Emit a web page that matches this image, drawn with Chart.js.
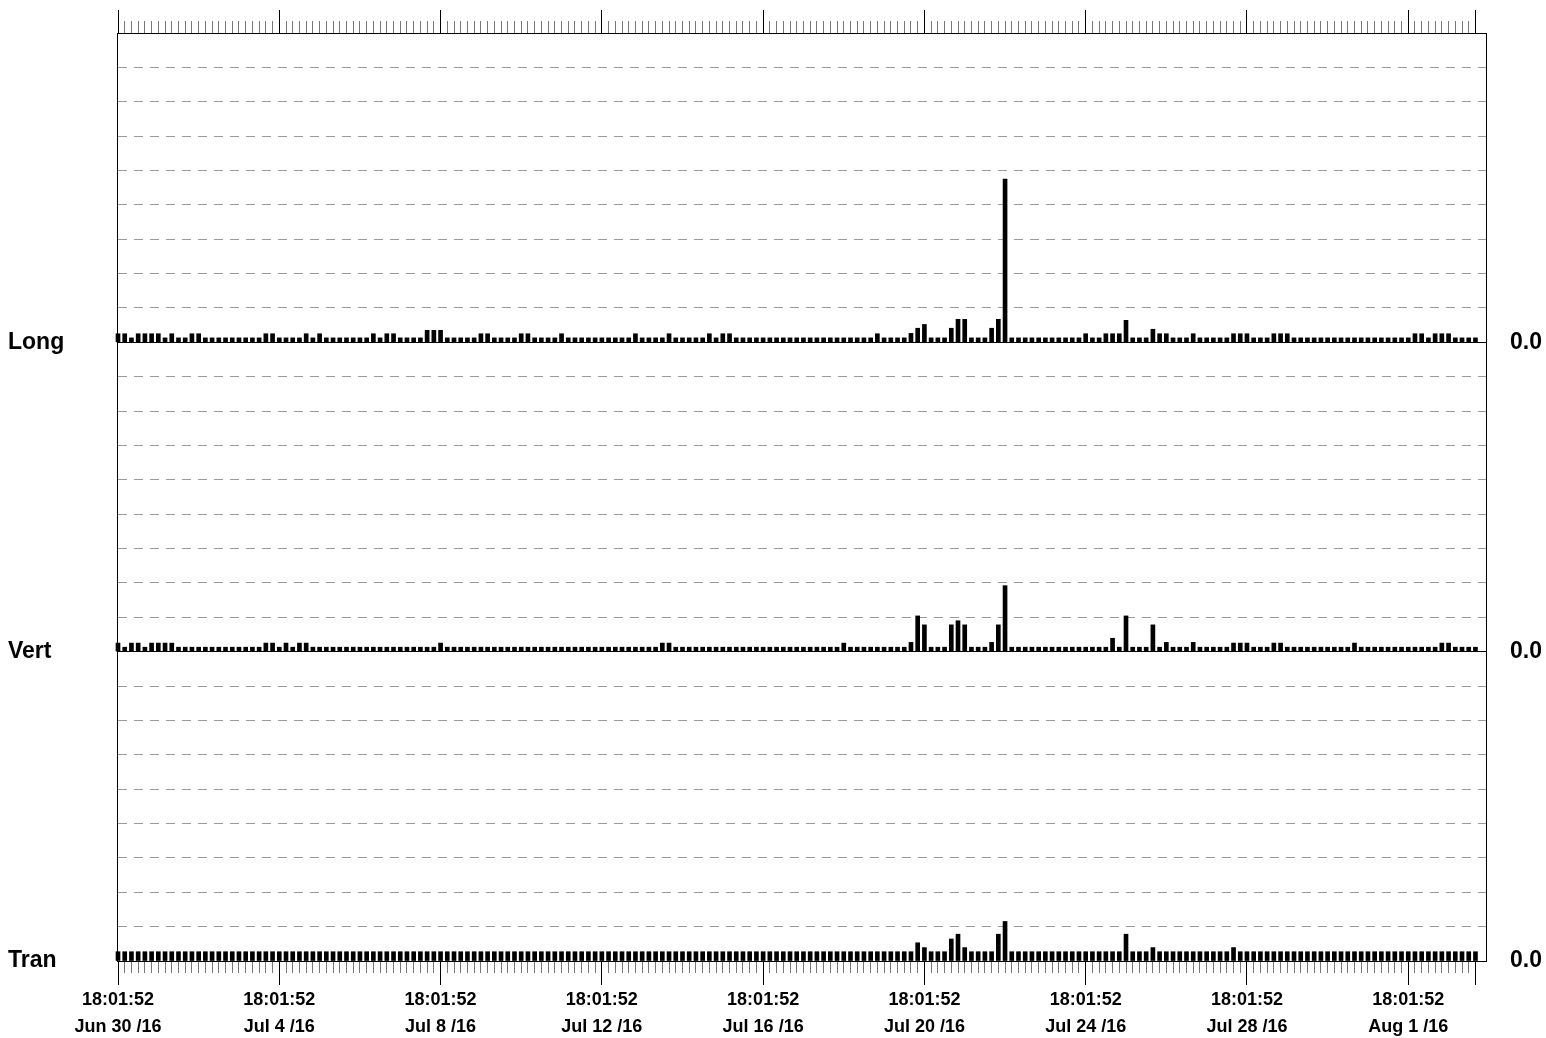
<!DOCTYPE html>
<html>
<head>
<meta charset="utf-8">
<script src="https://cdn.jsdelivr.net/npm/chart.js@4.4.1/dist/chart.umd.min.js"></script>
<style>
  html, body { margin: 0; padding: 0; background: #fff; }
  canvas { display: block; }
</style>
</head>
<body>
<canvas id="waveChart" width="1546" height="1038"></canvas>
<script>
// one bar every 4 hours, starting Jun 30 /16 18:01:52 (values in grid divisions)
var panelNames = ['Long', 'Vert', 'Tran'];
var timeLabel = '18:01:52';
var dateLabels = ['Jun 30 /16', 'Jul 4 /16', 'Jul 8 /16', 'Jul 12 /16', 'Jul 16 /16',
                  'Jul 20 /16', 'Jul 24 /16', 'Jul 28 /16', 'Aug 1 /16'];
var majorTicks = [0, 24, 48, 72, 96, 120, 144, 168, 192, 202];

var longValues = [
  .25,.25,.13,.25,.25,.25,.25,.13,.25,.13,.13,.25,.25,.13,.13,.13,.13,.13,.13,.13,.13,.13,.25,.25,
  .13,.13,.13,.13,.25,.13,.25,.13,.13,.13,.13,.13,.13,.13,.25,.13,.25,.25,.13,.13,.13,.13,.35,.35,
  .35,.13,.13,.13,.13,.13,.25,.25,.13,.13,.13,.13,.25,.25,.13,.13,.13,.13,.25,.13,.13,.13,.13,.13,
  .13,.13,.13,.13,.13,.25,.13,.13,.13,.13,.25,.13,.13,.13,.13,.13,.25,.13,.25,.25,.13,.13,.13,.13,
  .13,.13,.13,.13,.13,.13,.13,.13,.13,.13,.13,.13,.13,.13,.13,.13,.13,.25,.13,.13,.13,.13,.26,.41,
  .52,.13,.13,.13,.41,.67,.67,.13,.13,.13,.41,.67,4.75,.13,.13,.13,.13,.13,.13,.13,.13,.13,.13,.13,
  .25,.13,.13,.25,.25,.25,.64,.13,.13,.13,.38,.25,.25,.13,.13,.13,.25,.13,.13,.13,.13,.13,.25,.25,
  .25,.13,.13,.13,.25,.25,.25,.13,.13,.13,.13,.13,.13,.13,.13,.13,.13,.13,.13,.13,.13,.13,.13,.13,
  .13,.25,.25,.13,.25,.25,.25,.13,.13,.13,.13
];

var vertValues = [
  .25,.13,.25,.25,.13,.25,.25,.25,.25,.13,.13,.13,.13,.13,.13,.13,.13,.13,.13,.13,.13,.13,.25,.25,
  .13,.25,.13,.25,.25,.13,.13,.13,.13,.13,.13,.13,.13,.13,.13,.13,.13,.13,.13,.13,.13,.13,.13,.13,
  .25,.13,.13,.13,.13,.13,.13,.13,.13,.13,.13,.13,.13,.13,.13,.13,.13,.13,.13,.13,.13,.13,.13,.13,
  .13,.13,.13,.13,.13,.13,.13,.13,.13,.25,.25,.13,.13,.13,.13,.13,.13,.13,.13,.13,.13,.13,.13,.13,
  .13,.13,.13,.13,.13,.13,.13,.13,.13,.13,.13,.13,.25,.13,.13,.13,.13,.13,.13,.13,.13,.13,.27,1.04,
  .78,.13,.13,.13,.78,.90,.78,.13,.13,.13,.27,.78,1.92,.13,.13,.13,.13,.13,.13,.13,.13,.13,.13,.13,
  .13,.13,.13,.13,.39,.13,1.04,.13,.13,.13,.78,.13,.27,.13,.13,.13,.27,.13,.13,.13,.13,.13,.25,.25,
  .25,.13,.13,.13,.25,.25,.13,.13,.13,.13,.13,.13,.13,.13,.13,.13,.25,.13,.13,.13,.13,.13,.13,.13,
  .13,.13,.13,.13,.13,.25,.25,.13,.13,.13,.13
];

var tranValues = [
  .27,.27,.27,.27,.27,.27,.27,.27,.27,.27,.27,.27,.27,.27,.27,.27,.27,.27,.27,.27,.27,.27,.27,.27,
  .27,.27,.27,.27,.27,.27,.27,.27,.27,.27,.27,.27,.27,.27,.27,.27,.27,.27,.27,.27,.27,.27,.27,.27,
  .27,.27,.27,.27,.27,.27,.27,.27,.27,.27,.27,.27,.27,.27,.27,.27,.27,.27,.27,.27,.27,.27,.27,.27,
  .27,.27,.27,.27,.27,.27,.27,.27,.27,.27,.27,.27,.27,.27,.27,.27,.27,.27,.27,.27,.27,.27,.27,.27,
  .27,.27,.27,.27,.27,.27,.27,.27,.27,.27,.27,.27,.27,.27,.27,.27,.27,.27,.27,.27,.27,.27,.27,.53,
  .39,.27,.27,.27,.64,.78,.39,.27,.27,.27,.27,.78,1.15,.27,.27,.27,.27,.27,.27,.27,.27,.27,.27,.27,
  .27,.27,.27,.27,.27,.27,.78,.27,.27,.27,.39,.27,.27,.27,.27,.27,.27,.27,.27,.27,.27,.27,.39,.27,
  .27,.27,.27,.27,.27,.27,.27,.27,.27,.27,.27,.27,.27,.27,.27,.27,.27,.27,.27,.27,.27,.27,.27,.27,
  .27,.27,.27,.27,.27,.27,.27,.27,.27,.27,.27
];

document.addEventListener('DOMContentLoaded', function() {
  var canvas = document.getElementById('waveChart');
  var ctx = canvas.getContext('2d');

  var fontFamily = '"Liberation Sans", Arial, sans-serif';
  var sideFont = { family: fontFamily, weight: 'bold', size: 23 };
  var dateFont = { family: fontFamily, weight: 'bold', size: 18, lineHeight: 1.5 };

  var xMin = -0.15;
  var xMax = 203.57;
  var allTicks = longValues.map(function(v, i) { return i; });

  function isMajor(v) { return majorTicks.indexOf(v) >= 0; }

  function toPoints(values) {
    return values.map(function(v, i) { return { x: i, y: v }; });
  }

  function barSet(values, axisId) {
    return {
      type: 'bar',
      data: toPoints(values),
      xAxisID: 'x',
      yAxisID: axisId,
      backgroundColor: '#000',
      borderWidth: 0,
      barThickness: 4,
      grouped: false,
      clip: false
    };
  }

  // fixed side width, and no extra room asked for the (empty) top/bottom labels
  function fitSide(width) {
    return function(s) {
      s.width = width;
      s.paddingTop = 0;
      s.paddingBottom = 0;
    };
  }

  function panelAxis(name, weight) {
    return {
      type: 'linear',
      position: 'left',
      stack: 'panels',
      stackWeight: 1,
      weight: weight,
      min: 0,
      max: 9,
      ticks: {
        stepSize: 1,
        autoSkip: false,
        crossAlign: 'far',
        padding: 0,
        color: '#000',
        font: sideFont,
        callback: function(v) { return v === 0 ? name : ''; }
      },
      grid: {
        drawTicks: false,
        lineWidth: 1,
        color: function(c) {
          return (c.tick && (c.tick.value === 0 || c.tick.value === 9)) ? '#000' : '#9a9a9a';
        }
      },
      border: {
        color: '#000',
        dash: function(c) {
          return (c.tick && (c.tick.value === 0 || c.tick.value === 9)) ? [] : [9, 7];
        }
      },
      afterFit: fitSide(109)
    };
  }

  function sideAxis(weight) {
    return {
      type: 'linear',
      position: 'right',
      stack: 'side',
      stackWeight: 1,
      weight: weight,
      min: 0,
      max: 9,
      ticks: {
        stepSize: 1,
        autoSkip: false,
        crossAlign: 'near',
        padding: 24,
        color: '#000',
        font: sideFont,
        callback: function(v) { return v === 0 ? '0.0' : ''; }
      },
      grid: { drawOnChartArea: false, drawTicks: false },
      border: { display: true, color: '#000' },
      afterFit: fitSide(60)
    };
  }

  function tickAxis(position, weight, values, len, withBorder) {
    return {
      type: 'linear',
      position: position,
      weight: weight,
      offset: false,
      min: xMin,
      max: xMax,
      afterBuildTicks: function(s) {
        s.ticks = values.map(function(v) { return { value: v }; });
      },
      ticks: { display: false, autoSkip: false },
      grid: {
        offset: false,
        drawOnChartArea: false,
        tickLength: len,
        tickWidth: 1,
        tickColor: function(c) { return (c.tick && isMajor(c.tick.value)) ? '#000' : '#777'; }
      },
      border: { display: withBorder, color: '#000' }
    };
  }

  var scales = {
    x: tickAxis('bottom', 0, allTicks, 12, true),
    xLabels: {
      type: 'linear',
      position: 'bottom',
      weight: 1,
      offset: false,
      min: xMin,
      max: xMax,
      afterBuildTicks: function(s) {
        s.ticks = majorTicks.map(function(v) { return { value: v }; });
      },
      ticks: {
        autoSkip: false,
        maxRotation: 0,
        minRotation: 0,
        padding: 2,
        color: '#000',
        font: dateFont,
        callback: function(v, i) {
          return i < dateLabels.length ? [timeLabel, dateLabels[i]] : '';
        }
      },
      grid: { offset: false, drawOnChartArea: false, tickLength: 12, tickColor: '#000' },
      border: { display: false },
      afterFit: function(s) { s.height = 65; }
    },
    xTop: tickAxis('top', 0, allTicks, 12, true),
    xTopMajor: tickAxis('top', 1, majorTicks, 11, false),
    yLong: panelAxis(panelNames[0], 3),
    yVert: panelAxis(panelNames[1], 2),
    yTran: panelAxis(panelNames[2], 1),
    rLong: sideAxis(1),
    rVert: sideAxis(2),
    rTran: sideAxis(3)
  };

  new Chart(ctx, {
    type: 'bar',
    data: {
      datasets: [
        barSet(longValues, 'yLong'),
        barSet(vertValues, 'yVert'),
        barSet(tranValues, 'yTran')
      ]
    },
    options: {
      responsive: false,
      animation: false,
      layout: { padding: { left: 8, top: 10, right: 0, bottom: 0 } },
      plugins: {
        legend: { display: false },
        tooltip: { enabled: false }
      },
      scales: scales
    }
  });
});
</script>
</body>
</html>
